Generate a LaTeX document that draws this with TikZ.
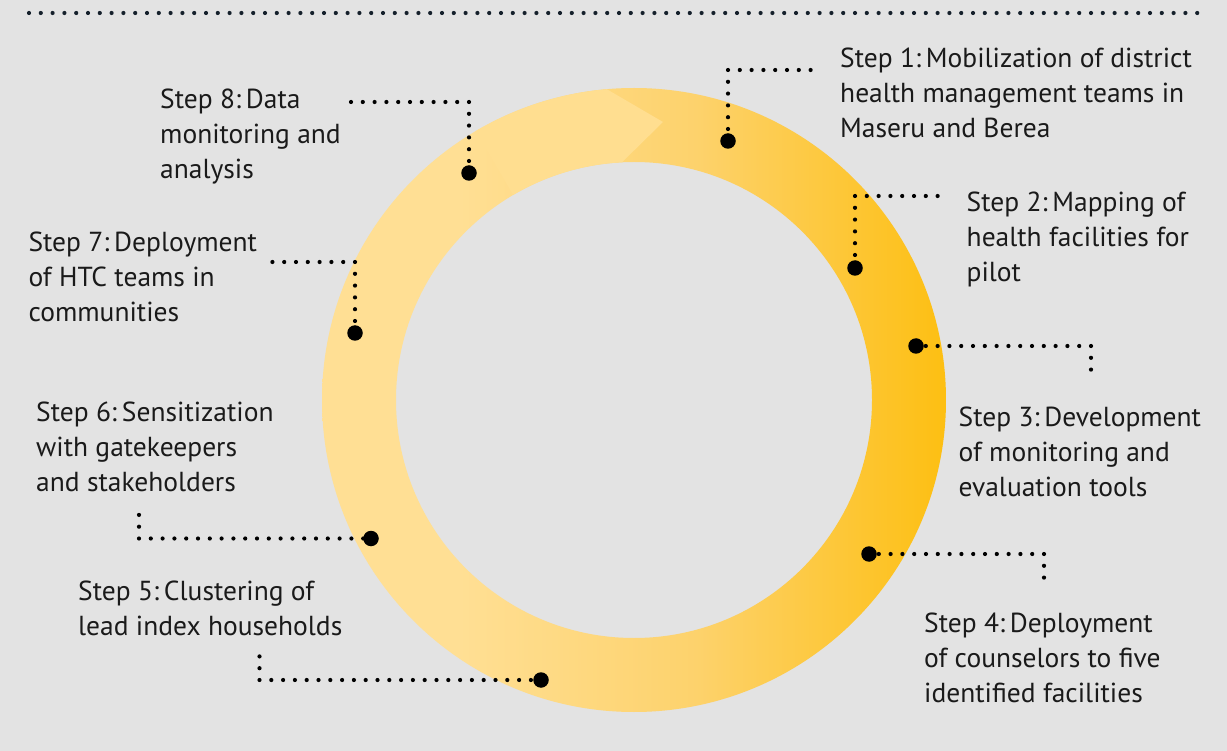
\documentclass[tikz,border=0pt]{standalone}
\usepackage{fontspec}
\setmainfont{PT Sans}
\definecolor{bg}{HTML}{E3E3E3}
\definecolor{ringA}{HTML}{FFDF94}
\definecolor{ringB}{HTML}{FDD26C}
\definecolor{ringC}{HTML}{FDBF12}
\definecolor{arrowc}{HTML}{FFDE90}
\definecolor{txt}{HTML}{1A1A1A}
\definecolor{topdots}{HTML}{15202B}
\pgfdeclarehorizontalshading{ringshade}{100bp}{color(0bp)=(ringA); color(36bp)=(ringA); color(55bp)=(ringB); color(75bp)=(ringC); color(100bp)=(ringC)}
\tikzset{
  steptext/.style={anchor=base west, inner sep=0pt, align=left, text=txt,
    font=\fontsize{27.5}{35}\selectfont},
  dotline/.style={line width=4.2pt, line cap=round, dash pattern=on 0pt off 11.8pt},
  bigdot/.style={circle, fill=black, minimum size=15.5pt, inner sep=0pt}
}
\begin{document}
\begin{tikzpicture}[x=1pt,y=-1pt]
\fill[bg] (0,0) rectangle (1227,751);
\useasboundingbox (0,0) rectangle (1227,751);
% top dotted rule
\coordinate (tl) at (29,13);
\coordinate (tr) at (1205,13);
\draw[dotline, topdots] (tl) -- (tr);
% ring
\coordinate (C) at (634,400);
\shade[shading=ringshade, even odd rule] (C) circle (312) (C) circle (238);
% arrow segment
\fill[arrowc] ([shift={(239.5:312)}]C) arc[start angle=239.5, end angle=265, radius=312]
  -- ([shift={(29,-278)}]C) -- ([shift={(267.1:238)}]C)
  arc[start angle=267.1, end angle=239.5, radius=238] -- cycle;
% coordinates
\coordinate (d1) at (728,141);  \coordinate (c1) at (728,70);   \coordinate (e1) at (818,70);
\coordinate (d2) at (855,268);  \coordinate (c2) at (855,196);  \coordinate (e2) at (946,196);
\coordinate (d3) at (916,346);  \coordinate (c3) at (1091,346); \coordinate (e3) at (1091,377);
\coordinate (d4) at (869,554);  \coordinate (c4) at (1044,554); \coordinate (e4) at (1044,585);
\coordinate (d5) at (541,680);  \coordinate (c5) at (259.5,680);\coordinate (e5) at (259.5,648);
\coordinate (d6) at (371,538.5);\coordinate (c6) at (139,538.5);\coordinate (e6) at (139,506);
\coordinate (d7) at (355,333);  \coordinate (c7) at (355,262);  \coordinate (e7) at (265,262);
\coordinate (d8) at (469,173);  \coordinate (c8) at (469,102);  \coordinate (e8) at (348,102);
% connectors
\foreach \i in {1,...,8}{
  \draw[dotline] (c\i) -- (e\i) (c\i) -- (d\i);
  \node[bigdot] (b\i) at (d\i) {};
}
% texts (anchor = baseline of last line)
\node[steptext] (t1) at (840,138) {Step 1:\hspace{0.18em}Mobilization of district\\health management teams in\\Maseru and Berea};
\node[steptext] (t2) at (966.5,281.5) {Step 2:\hspace{0.18em}Mapping of\\health facilities for\\pilot};
\node[steptext] (t3) at (958.5,496.5) {Step 3:\hspace{0.18em}Development\\of monitoring and\\evaluation tools};
\node[steptext] (t4) at (924,702.5) {Step 4:\hspace{0.18em}Deployment\\of counselors to five\\identified facilities};
\node[steptext] (t5) at (78,635) {Step 5:\hspace{0.18em}Clustering of\\lead index households};
\node[steptext] (t6) at (36,491) {Step 6:\hspace{0.18em}Sensitization\\with gatekeepers\\and stakeholders};
\node[steptext] (t7) at (28.3,321.5) {Step 7:\hspace{0.18em}Deployment\\of HTC teams in\\communities};
\node[steptext] (t8) at (160,179) {Step 8:\hspace{0.18em}Data\\monitoring and\\analysis};
\end{tikzpicture}
\end{document}
